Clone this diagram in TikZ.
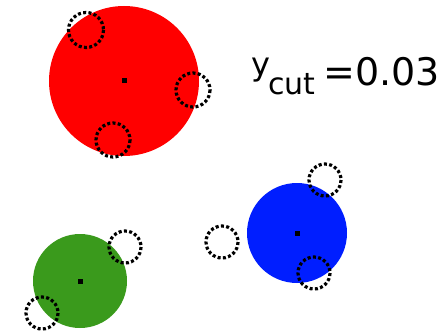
\documentclass[tikz,border=0pt]{standalone}
\usepackage{fontspec}
\setmainfont{DejaVu Sans}
\usepackage{tikz}
\usetikzlibrary{positioning, calc}

\definecolor{jetred}{RGB}{255,0,0}
\definecolor{jetblue}{RGB}{0,30,255}
\definecolor{jetgreen}{RGB}{58,154,28}

\tikzset{
	jet/.style={draw=none},
	subjet/.style={draw=black, line width=3.2pt, dash pattern=on 3pt off 2.3pt},
	axis/.style={fill=black}
}

\begin{document}
\begin{tikzpicture}[x=1pt, y=-1pt]
	\useasboundingbox (0,0) rectangle (444,334);
	
	% Jet axes
	\coordinate (Jr) at (124,81);
	\coordinate (Jb) at (297,233);
	\coordinate (Jg) at (80,281);
	
	% Jets (filled discs)
	\fill[jet, jetred] (Jr) circle (75);
	\fill[jet, jetblue] (Jb) circle (50);
	\fill[jet, jetgreen] (Jg) circle (47);
	
	% Subjets (dotted rings)
	\draw[subjet] (86,30) circle (17.5);
	\draw[subjet] (193,90) circle (17);
	\draw[subjet] (113,140) circle (17);
	\draw[subjet] (325,180) circle (16);
	\draw[subjet] (222,242) circle (16);
	\draw[subjet] (314,273) circle (16);
	\draw[subjet] (125,247) circle (16);
	\draw[subjet] (42,313) circle (16);
	
	% Jet centres
	\fill[axis] ($(Jr)+(-2.5,-2.5)$) rectangle ++(5,5);
	\fill[axis] ($(Jb)+(-2.5,-2.5)$) rectangle ++(5,5);
	\fill[axis] ($(Jg)+(-2.5,-2.5)$) rectangle ++(5,5);
	
	% Cut label
	\node[anchor=base west, inner sep=0pt, font=\fontsize{32}{36}\selectfont] (ylab) at (251,75.5) {y};
	\node[anchor=base west, inner sep=0pt, font=\fontsize{30}{34}\selectfont] (cutlab) at (268,95) {cut};
	\node[anchor=base west, inner sep=0pt, font=\fontsize{38}{44}\selectfont] (vallab) at (323,86) {=0.03};
	
\end{tikzpicture}
\end{document}
